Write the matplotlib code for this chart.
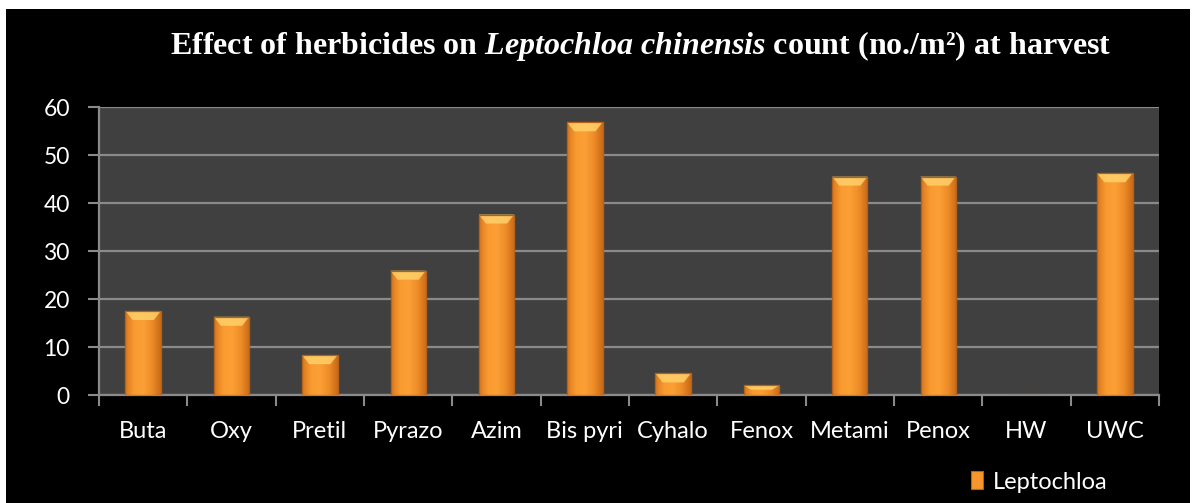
import numpy as np
import matplotlib

matplotlib.use("Agg")
import matplotlib.pyplot as plt  # noqa: E402
from matplotlib.patches import Rectangle, Polygon  # noqa: E402
from matplotlib.colors import LinearSegmentedColormap  # noqa: E402

# Leptochloa chinensis count (no./m2) at harvest per treatment.
treatments = ["Buta", "Oxy", "Pretil", "Pyrazo", "Azim", "Bis pyri",
              "Cyhalo", "Fenox", "Metami", "Penox", "HW", "UWC"]
counts = [17.5, 16.3, 8.3, 25.9, 37.6, 56.8, 4.5, 2.0, 45.5, 45.5, 0.0, 46.2]
yticks = [0, 10, 20, 30, 40, 50, 60]

BG = "#000000"
PLOT_BG = "#404040"
GRID = "#8a8a8a"
ORANGE = "#f7962c"
BAR_W = 0.4

plt.rcParams["mathtext.fontset"] = "custom"
plt.rcParams["mathtext.rm"] = "Liberation Serif:bold"
plt.rcParams["mathtext.it"] = "Liberation Serif:italic:bold"

fig = plt.figure(figsize=(11.96, 5.03), dpi=100, facecolor="white")
# black chart area sits inside a thin white margin
fig.patches.append(Rectangle((6 / 1196, 0), 1184 / 1196, 494 / 503,
                             transform=fig.transFigure, facecolor=BG,
                             edgecolor="none", zorder=-10))

ax = fig.add_axes([99 / 1196, 108 / 503, 1060 / 1196, 288 / 503])
ax.set_facecolor(PLOT_BG)
x = np.arange(len(treatments))
ax.set_xlim(-0.5, len(treatments) - 0.5)
ax.set_ylim(0, 60)

bars = ax.bar(x, counts, width=BAR_W, color=ORANGE, edgecolor="#b5611a",
              linewidth=0.8, zorder=3, label="Leptochloa")

# horizontal shading across each bar, darker towards the right edge
shade = LinearSegmentedColormap.from_list(
    "bar", ["#d9781f", "#f99b30", "#fba036", "#ee8d28", "#c96a18"])
grad = np.linspace(0, 1, 64).reshape(1, -1)
px_per_unit = 288 / 60
for rect, v in zip(bars, counts):
    if v <= 0:
        continue
    x0, w = rect.get_x(), rect.get_width()
    im = ax.imshow(grad, cmap=shade, aspect="auto", zorder=3.5,
                   extent=(x0, x0 + w, 0, v), interpolation="bicubic")
    im.set_clip_path(rect)
    # lighter bevel along the top edge
    bev = min(9 / px_per_unit, 0.45 * v)
    inset = w * 0.2
    ax.add_patch(Polygon([(x0, v), (x0 + w, v), (x0 + w - inset, v - bev),
                          (x0 + inset, v - bev)], closed=True,
                         facecolor="#ffd06a", edgecolor="none", alpha=0.85,
                         zorder=4))
    ax.add_patch(Rectangle((x0, 0), w, v, facecolor="none",
                           edgecolor="#b5611a", linewidth=0.9, zorder=4.5))

ax.set_yticks(yticks)
ax.yaxis.grid(True, color=GRID, linewidth=1.6, zorder=1)
ax.set_axisbelow(True)
ax.set_xticks(x)
ax.set_xticklabels(treatments)
ax.set_xticks(np.arange(-0.5, len(treatments)), minor=True)
ax.tick_params(axis="x", which="major", length=0, pad=19, labelsize=17,
               labelcolor="white")
ax.tick_params(axis="x", which="minor", length=8, width=1.5, color=GRID,
               direction="out")
ax.tick_params(axis="y", length=8, width=1.5, color=GRID, pad=13,
               labelsize=16.5, labelcolor="white")
for lab in ax.get_xticklabels() + ax.get_yticklabels():
    lab.set_family("Lato")
for side in ("top", "right"):
    ax.spines[side].set_visible(False)
for side in ("left", "bottom"):
    ax.spines[side].set_color(GRID)
    ax.spines[side].set_linewidth(1.6)

fig.text(641 / 1196, 1 - 46 / 503,
         r"Effect of herbicides on $\mathit{Leptochloa\ chinensis}$ count (no./m²) at harvest",
         ha="center", va="center", color="white", family="Liberation Serif",
         fontweight="bold", fontsize=23)

leg = ax.legend(handles=[bars], loc="center left", frameon=False,
                bbox_to_anchor=(950 / 1196, 1 - 482 / 503),
                bbox_transform=fig.transFigure, handlelength=0.5,
                handleheight=0.8, handletextpad=0.4,
                prop={"family": "Lato", "size": 17})
for t in leg.get_texts():
    t.set_color("white")

fig.savefig("out.png", dpi=100, facecolor=fig.get_facecolor())
